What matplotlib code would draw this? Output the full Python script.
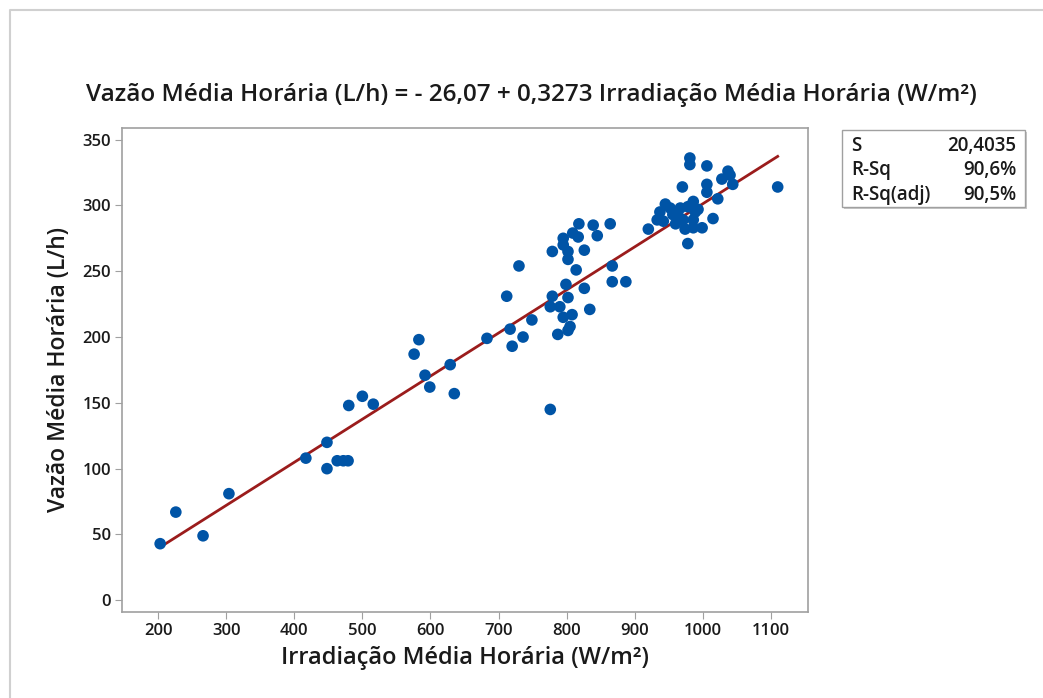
import numpy as np
import matplotlib
matplotlib.use("Agg")
import matplotlib.pyplot as plt
from matplotlib.patches import Rectangle
from matplotlib.lines import Line2D

plt.rcParams['font.family'] = ['Open Sans', 'DejaVu Sans']

# Irradiação média horária (W/m2)
irradiacao = [203, 226, 266, 304, 417, 448, 448, 463, 472, 479, 480, 500, 516,
              576, 583, 592, 599, 629, 635,
              683, 712, 717, 720, 730, 736, 749, 776, 776, 779, 779, 787, 790,
              795, 795, 795, 799, 802, 802, 802, 802, 805, 808, 809, 814, 817,
              818, 826, 826, 834, 839, 845, 864, 867, 867, 887,
              920, 933, 937, 942, 945, 952, 956, 960, 964, 967, 970, 971, 974,
              978, 978, 981, 981, 986, 986, 986, 989, 993, 999, 1006, 1006,
              1006, 1015, 1022, 1028, 1037, 1040, 1044, 1110]
# Vazão média horária (L/h)
vazao = [43, 67, 49, 81, 108, 120, 100, 106, 106, 106, 148, 155, 149,
         187, 198, 171, 162, 179, 157,
         199, 231, 206, 193, 254, 200, 213, 145, 223, 265, 231, 202, 223,
         275, 270, 215, 240, 265, 259, 230, 205, 208, 217, 279, 251, 276,
         286, 266, 237, 221, 285, 277, 286, 254, 242, 242,
         282, 289, 295, 288, 301, 298, 293, 286, 292, 298, 314, 289, 282,
         299, 271, 336, 331, 303, 289, 283, 295, 297, 283, 330, 316,
         310, 290, 305, 320, 326, 323, 316, 314]

b0, b1 = -26.07, 0.3273
stats = [("S", "20,4035"), ("R-Sq", "90,6%"), ("R-Sq(adj)", "90,5%")]

txt = '#1a1a1a'
fig = plt.figure(figsize=(10.43, 6.98), dpi=100)
ax = fig.add_axes([0.117, 0.123, 0.658, 0.694])

xs = np.array([min(irradiacao), max(irradiacao)])
ax.plot(xs, b0 + b1 * xs, color='#9b1c1c', lw=2.0, zorder=2)
ax.scatter(irradiacao, vazao, s=70, color='#0054a6', edgecolors='none', zorder=3)

ax.set_xlim(147, 1155)
ax.set_ylim(-9, 359)
ax.set_xticks(range(200, 1101, 100))
ax.set_yticks(range(0, 351, 50))
for sp in ax.spines.values():
    sp.set_color('#a0a0a0')
    sp.set_linewidth(1.2)
ax.tick_params(direction='out', length=5, color='#a0a0a0', labelsize=12,
               labelcolor=txt, pad=3)
for lb in ax.get_xticklabels() + ax.get_yticklabels():
    lb.set_fontweight('semibold')
ax.set_xlabel('Irradiação Média Horária (W/m²)', fontsize=17, color=txt,
              fontweight='semibold', labelpad=5)
ax.set_ylabel('Vazão Média Horária (L/h)', fontsize=16.5, color=txt,
              fontweight='semibold', labelpad=8)

fig.text(0.51, 0.864,
         'Vazão Média Horária (L/h) = - 26,07 + 0,3273 Irradiação Média Horária (W/m²)',
         ha='center', va='center', fontsize=17.5, fontweight='semibold', color=txt)

# stats box
fig.patches.append(Rectangle((844 / 1043, 1 - 209 / 698), 183 / 1043, 77 / 698,
                             transform=fig.transFigure, facecolor='#c8c8c8',
                             edgecolor='none', zorder=1))
fig.patches.append(Rectangle((842 / 1043, 1 - 207 / 698), 183 / 1043, 77 / 698,
                             transform=fig.transFigure, facecolor='white',
                             edgecolor='#a0a0a0', lw=1.0, zorder=2))
for i, (lab, val) in enumerate(stats):
    yy = 1 - (146 + i * 24.5) / 698
    fig.text(851 / 1043, yy, lab, ha='left', va='center', fontsize=13.5,
             fontweight='semibold', color=txt)
    fig.text(1016 / 1043, yy, val, ha='right', va='center', fontsize=13.5,
             fontweight='semibold', color=txt)

# window frame
fig.lines.append(Line2D([10 / 1043, 10 / 1043, 1], [0, 1 - 10 / 698, 1 - 10 / 698],
                        transform=fig.transFigure, color='#d0d0d0', lw=1.5))

fig.savefig('out.png', dpi=100)
